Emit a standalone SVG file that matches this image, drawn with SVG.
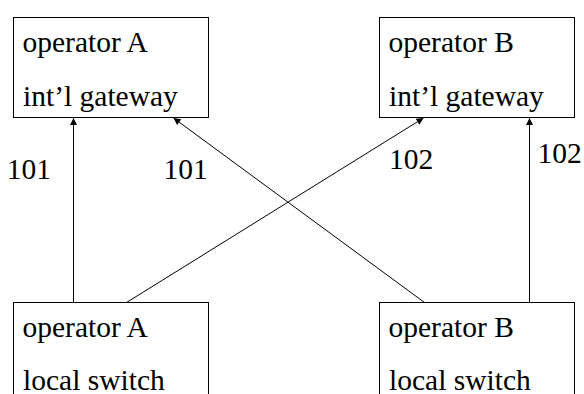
<svg xmlns="http://www.w3.org/2000/svg" width="584" height="394" viewBox="0 0 584 394">
<defs>
<marker id="ah" viewBox="0 0 10 10" refX="10" refY="5" markerWidth="9" markerHeight="7" markerUnits="userSpaceOnUse" orient="auto">
<path d="M0,0 L10,5 L0,10 z" fill="#000"/>
</marker>
</defs>
<style>
.box{fill:#fff;stroke:#000;stroke-width:1}
.c{stroke:#000;stroke-width:1;fill:none;marker-end:url(#ah)}
</style>
<rect width="584" height="394" fill="#fff"/>
<g id="connectors">
<line class="c" x1="73.5" y1="302.5" x2="73.5" y2="118"/>
<line class="c" x1="424.5" y1="302.5" x2="173.5" y2="118"/>
<line class="c" x1="126.5" y1="302.5" x2="423.5" y2="118"/>
<line class="c" x1="529.5" y1="302.5" x2="529.5" y2="118"/>
</g>
<g id="gwA">
<rect class="box" x="13.5" y="17.5" width="195" height="100"/>
<text style="font-family:'Liberation Serif',serif;font-size:29.5px" x="22.5" y="52">operator A</text>
<text style="font-family:'Liberation Serif',serif;font-size:29.5px" x="23" y="106">int’l gateway</text>
</g>
<g id="gwB">
<rect class="box" x="379.5" y="17.5" width="195" height="100"/>
<text style="font-family:'Liberation Serif',serif;font-size:29.5px" x="388.5" y="52">operator B</text>
<text style="font-family:'Liberation Serif',serif;font-size:29.5px" x="389" y="106">int’l gateway</text>
</g>
<g id="lsA">
<rect class="box" x="13.5" y="302.5" width="195" height="100"/>
<text style="font-family:'Liberation Serif',serif;font-size:29.5px" x="22.5" y="337">operator A</text>
<text style="font-family:'Liberation Serif',serif;font-size:29.5px" x="23" y="390">local switch</text>
</g>
<g id="lsB">
<rect class="box" x="379.5" y="302.5" width="195" height="100"/>
<text style="font-family:'Liberation Serif',serif;font-size:29.5px" x="388.5" y="337">operator B</text>
<text style="font-family:'Liberation Serif',serif;font-size:29.5px" x="389" y="390">local switch</text>
</g>
<g id="labels">
<text style="font-family:'Liberation Serif',serif;font-size:29.5px" x="6.7" y="179.3">101</text>
<text style="font-family:'Liberation Serif',serif;font-size:29.5px" x="163.4" y="178.5">101</text>
<text style="font-family:'Liberation Serif',serif;font-size:29.5px" x="389" y="169">102</text>
<text style="font-family:'Liberation Serif',serif;font-size:29.5px" x="537.4" y="163.3">102</text>
</g>
</svg>
